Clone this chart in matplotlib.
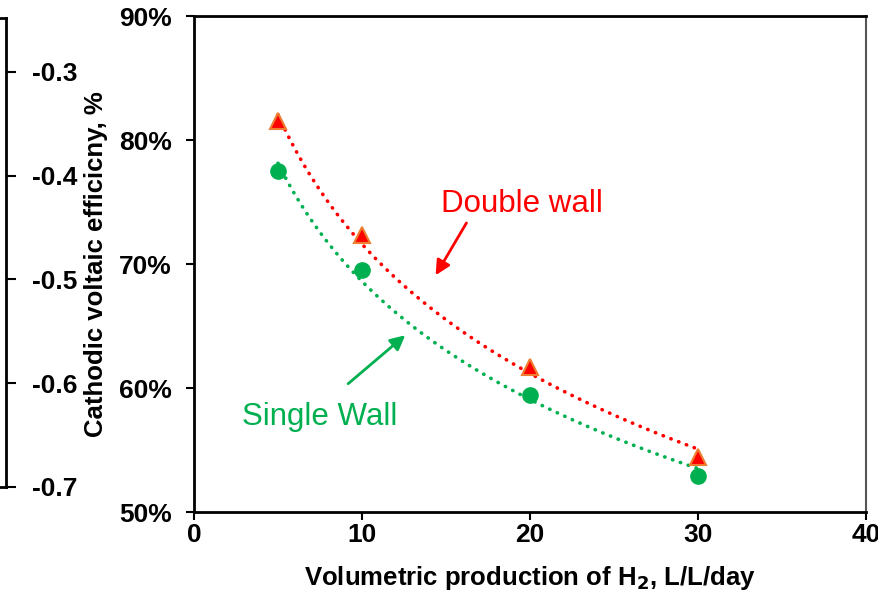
import numpy as np
import matplotlib
matplotlib.use("Agg")
import matplotlib.pyplot as plt

plt.rcParams['font.family'] = ['Liberation Sans', 'DejaVu Sans']

# Data
production = [5, 10, 20, 30]
double_wall = [81.5, 72.3, 61.7, 54.4]
single_wall = [77.5, 69.5, 59.4, 52.9]
double_err = [0.5, 0.4, 0.3, 0.4]
single_err = [0.5, 0.4, 0.3, 0.3]

x_ticks = [0, 10, 20, 30, 40]
y_ticks = [50, 60, 70, 80, 90]
y_tick_labels = ['50%', '60%', '70%', '80%', '90%']
left_ticks = [-0.7, -0.6, -0.5, -0.4, -0.3]

red = '#FF0000'
orange = '#ED7D31'
green = '#00B050'

fig = plt.figure(figsize=(8.79, 6.01), dpi=100)

# main axes
ax = fig.add_axes([194 / 879, 1 - 512 / 601, 672 / 879, 496 / 601])

# logarithmic trendlines, y = a*ln(x) + b
def log_fit(x, y):
    a, b = np.polyfit(np.log(x), y, 1)
    xs = np.linspace(min(x), max(x), 200)
    return xs, a * np.log(xs) + b

xs, ys = log_fit(production, double_wall)
ax.plot(xs, ys, color=red, lw=2.6, ls=(0, (0.1, 2.2)), dash_capstyle='round', zorder=2)
xs, ys = log_fit(production, single_wall)
ax.plot(xs, ys, color=green, lw=2.6, ls=(0, (0.1, 2.2)), dash_capstyle='round', zorder=2)

ax.errorbar(production, double_wall, yerr=double_err, fmt='^', color=red,
            mfc=red, mec=orange, mew=1.5, ms=11, ecolor=orange, elinewidth=1.2,
            capsize=0, zorder=3)
ax.errorbar(production, single_wall, yerr=single_err, fmt='o', color=green,
            mfc=green, mec=green, ms=11, ecolor=green, elinewidth=1.2,
            capsize=0, zorder=3)

ax.set_xlim(0, 40)
ax.set_ylim(50, 90)
ax.set_xticks(x_ticks)
ax.set_yticks(y_ticks)
ax.set_yticklabels(y_tick_labels)
ax.tick_params(direction='out', length=6, width=1.5, labelsize=19)
ax.tick_params(axis='y', pad=10)
ax.tick_params(axis='x', pad=2)
for lab in ax.get_xticklabels() + ax.get_yticklabels():
    lab.set_fontweight('bold')
for s in ['left', 'bottom', 'top']:
    ax.spines[s].set_linewidth(2)
ax.spines['right'].set_linewidth(1.5)
ax.spines['right'].set_color('#555555')

ax.set_xlabel('Volumetric production of H$_\\mathbf{2}$, L/L/day',
              fontsize=18.5, fontweight='bold', labelpad=12)
ax.set_ylabel('Cathodic voltaic efficicny, %', fontsize=18.5, fontweight='bold',
              labelpad=8)

ax.text(19.5, 74.8, 'Double wall', color=red, fontsize=22.5, ha='center', va='center')
ax.text(7.5, 57.7, 'Single Wall', color=green, fontsize=22.5, ha='center', va='center')
ax.annotate('', xy=(14.3, 68.9), xytext=(16.3, 73.5),
            arrowprops=dict(arrowstyle='-|>', color=red, lw=2, mutation_scale=22))
ax.annotate('', xy=(12.7, 64.4), xytext=(9.05, 60.2),
            arrowprops=dict(arrowstyle='-|>', color=green, lw=2, mutation_scale=22))

# partial axis of the neighbouring chart at the left edge
ax2 = fig.add_axes([-0.3, 1 - 487 / 601, 0.3 + 6 / 879, 469 / 601])
ax2.set_xlim(0, 1)
ax2.set_ylim(-0.7, -0.248)
ax2.set_xticks([])
ax2.set_yticks(left_ticks)
ax2.set_yticklabels(['%.1f' % v for v in left_ticks])
ax2.yaxis.tick_right()
ax2.tick_params(axis='y', direction='out', length=7, width=1.5, labelsize=19, pad=12)
for lab in ax2.get_yticklabels():
    lab.set_fontweight('bold')
ax2.spines['left'].set_visible(False)
for s in ['right', 'top', 'bottom']:
    ax2.spines[s].set_linewidth(2)

fig.savefig('out.png', dpi=100)
